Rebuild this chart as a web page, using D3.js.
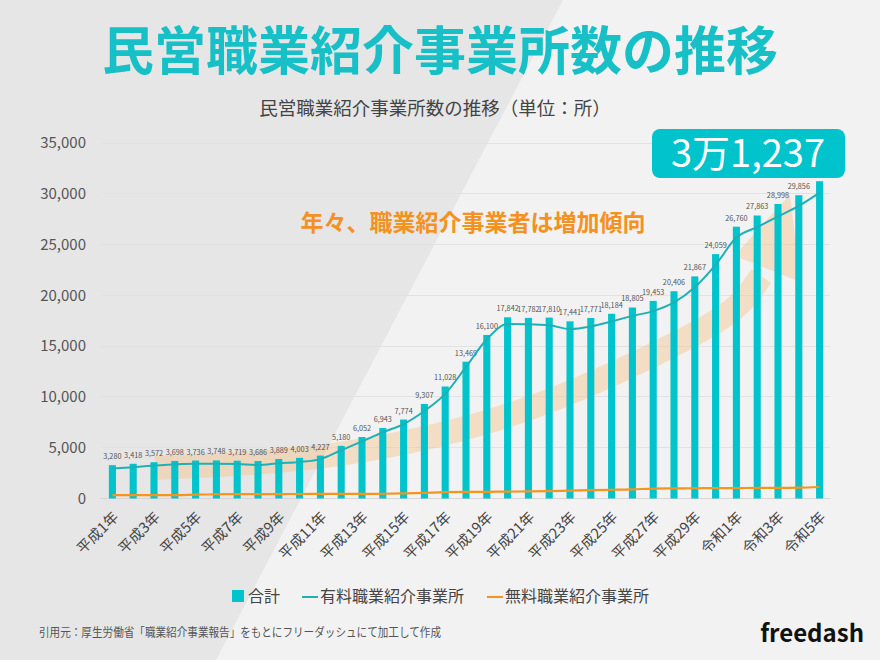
<!DOCTYPE html>
<html><head><meta charset="utf-8">
<script src="https://cdn.jsdelivr.net/npm/d3@7"></script>
<style>
html,body{margin:0;padding:0;background:#f2f2f2;}
svg{display:block;}
text{font-family:"Noto Sans CJK JP","Open Sans",sans-serif;}
</style></head>
<body>
<svg id="c" width="880" height="660"></svg>
<script>
const categories = ["平成1年","平成2年","平成3年","平成4年","平成5年","平成6年","平成7年","平成8年","平成9年","平成10年",
"平成11年","平成12年","平成13年","平成14年","平成15年","平成16年","平成17年","平成18年","平成19年","平成20年",
"平成21年","平成22年","平成23年","平成24年","平成25年","平成26年","平成27年","平成28年","平成29年","平成30年",
"令和1年","令和2年","令和3年","令和4年","令和5年"];
const totals = [3280,3418,3572,3698,3736,3748,3719,3686,3889,4003,4227,5180,6052,6943,7774,9307,11028,13469,16100,17842,
17782,17810,17441,17771,18184,18805,19453,20406,21867,24059,26760,27863,28998,29856,31237];
const paid = [2950,3080,3240,3380,3420,3430,3400,3300,3470,3600,3880,4750,5620,6520,7330,8620,10300,12950,15680,17170,
17150,17050,16680,16930,17430,17980,18450,19300,20800,23000,25690,26720,27760,28800,30110];
const free = [330,330,335,340,380,420,430,440,440,445,450,450,455,470,500,560,620,650,660,680,
700,730,780,830,860,900,980,1000,1010,1020,1030,1040,1050,1070,1130];
const yTicks = [0,5000,10000,15000,20000,25000,30000,35000];
const seriesNames = ["合計","有料職業紹介事業所","無料職業紹介事業所"];
const highlightText = "3万1,237";
const titleText = "民営職業紹介事業所数の推移";
const subtitleText = "民営職業紹介事業所数の推移（単位：所）";
const noteText = "年々、職業紹介事業者は増加傾向";
const sourceText = "引用元：厚生労働省「職業紹介事業報告」をもとにフリーダッシュにて加工して作成";
const brandText = "freedash";
// trend arrow (decoration) in data space: [category index, value]
const trendShaft = [[2.05,3000],[6.6,3400],[10.95,4280],[14.8,5760],[18.15,7530],[21.5,9890],[25.35,13440],[28.6,16790],[30.2,18950],[31.2,21900]];
const trendHead = [[29.9,23900],[32.57,29900],[33.1,21300]];

const svg = d3.select("#c");
const W = 880, H = 660;
const C = {bar:"#00c3cb", paid:"#1eb0b6", free:"#f7941d", title:"#17c0c6", text:"#444", note:"#f39121"};

// background
svg.append("rect").attr("width",W).attr("height",H).attr("fill","#f2f2f2");
svg.append("path").attr("d","M0,0L563,0L216,660L0,660Z").attr("fill","#e6e6e6");

const x = d3.scalePoint().domain(categories).range([102,830]).padding(0.5);
const xi = i => x(categories[0]) + i * x.step();
const y = d3.scaleLinear().domain([0,35000]).range([498.5,143]);
const bw = x.step()*0.34;

// gridlines
svg.append("g").selectAll("line").data(yTicks).join("line")
  .attr("x1",100).attr("x2",830).attr("y1",d=>y(d)).attr("y2",d=>y(d))
  .attr("stroke",d=>d===0?"#d6d6d6":"#e2e2e2").attr("stroke-width",1).attr("shape-rendering","crispEdges");

// y axis labels
const yAxis = d3.axisLeft(y).tickValues(yTicks).tickFormat(d3.format(",")).tickSize(0).tickPadding(0);
const ga = svg.append("g").attr("transform","translate(86,0)").call(yAxis);
ga.select(".domain").remove();
ga.selectAll("text").attr("font-family","'Open Sans',sans-serif").attr("font-size",15).attr("fill","#555");

// trend arrow
const tl = d3.line().x(d=>xi(d[0])).y(d=>y(d[1])).curve(d3.curveBasis);
svg.append("path").attr("d",tl(trendShaft)).attr("fill","none").attr("stroke","#f7c48d").attr("stroke-opacity",0.45).attr("stroke-width",24);
svg.append("path").attr("d",d3.line().x(d=>xi(d[0])).y(d=>y(d[1]))(trendHead)+"Z").attr("fill","#f7c48d").attr("fill-opacity",0.45);

// bars
svg.append("g").selectAll("rect").data(totals).join("rect")
  .attr("x",(d,i)=>x(categories[i])-bw/2).attr("width",bw)
  .attr("y",d=>y(d)).attr("height",d=>y(0)-y(d)).attr("fill",C.bar);

// bar labels (except last)
svg.append("g").selectAll("text").data(totals.slice(0,-1)).join("text")
  .attr("x",(d,i)=>x(categories[i])).attr("y",d=>y(d)-6)
  .attr("text-anchor","middle").attr("font-family","'Open Sans',sans-serif").attr("font-size",7.3)
  .attr("fill","#555").text(d=>d3.format(",")(d));

// lines
const line = d3.line().x((d,i)=>x(categories[i])).y(d=>y(d)).curve(d3.curveMonotoneX);
svg.append("path").attr("d",line(free)).attr("fill","none").attr("stroke",C.free).attr("stroke-width",2.2);
svg.append("path").attr("d",line(paid)).attr("fill","none").attr("stroke",C.paid).attr("stroke-width",2);

// x labels
svg.append("g").selectAll("text").data(categories.filter((d,i)=>i%2===0)).join("text")
  .attr("transform",d=>`translate(${x(d)+7},518) rotate(-45)`)
  .attr("text-anchor","end").attr("font-size",14.5).attr("fill",C.text).text(d=>d);

// titles
svg.append("text").attr("x",440).attr("y",70).attr("text-anchor","middle").attr("font-size",52).attr("font-weight",700)
  .attr("fill",C.title).text(titleText);
svg.append("text").attr("x",435).attr("y",115).attr("text-anchor","middle").attr("font-size",18.5).attr("fill",C.text).text(subtitleText);

// note
svg.append("text").attr("x",473).attr("y",231).attr("text-anchor","middle").attr("font-size",23).attr("font-weight",700)
  .attr("fill",C.note).text(noteText);

// highlight box
svg.append("rect").attr("x",652).attr("y",129).attr("width",193).attr("height",49).attr("rx",8).attr("fill",C.bar);
svg.append("text").attr("x",748).attr("y",167).attr("text-anchor","middle").attr("font-size",38).attr("font-weight",400)
  .attr("fill","#fff").text(highlightText);

// legend
const lg = svg.append("g").attr("font-size",16).attr("fill",C.text);
lg.append("rect").attr("x",232).attr("y",590).attr("width",12).attr("height",12).attr("fill",C.bar);
lg.append("text").attr("x",248).attr("y",602).text(seriesNames[0]);
lg.append("line").attr("x1",302).attr("x2",318).attr("y1",597).attr("y2",597).attr("stroke",C.paid).attr("stroke-width",2);
lg.append("text").attr("x",320).attr("y",602).text(seriesNames[1]);
lg.append("line").attr("x1",487).attr("x2",503).attr("y1",597).attr("y2",597).attr("stroke",C.free).attr("stroke-width",2);
lg.append("text").attr("x",505).attr("y",602).text(seriesNames[2]);

// footer
svg.append("text").attr("x",39).attr("y",637).attr("font-size",12).attr("fill","#555")
  .attr("textLength",402).attr("lengthAdjust","spacingAndGlyphs").text(sourceText);
svg.append("text").attr("x",864).attr("y",642).attr("text-anchor","end").attr("font-family","'Open Sans',sans-serif")
  .attr("font-size",24).attr("font-weight",700).attr("fill","#111").text(brandText);
</script>
</body></html>
